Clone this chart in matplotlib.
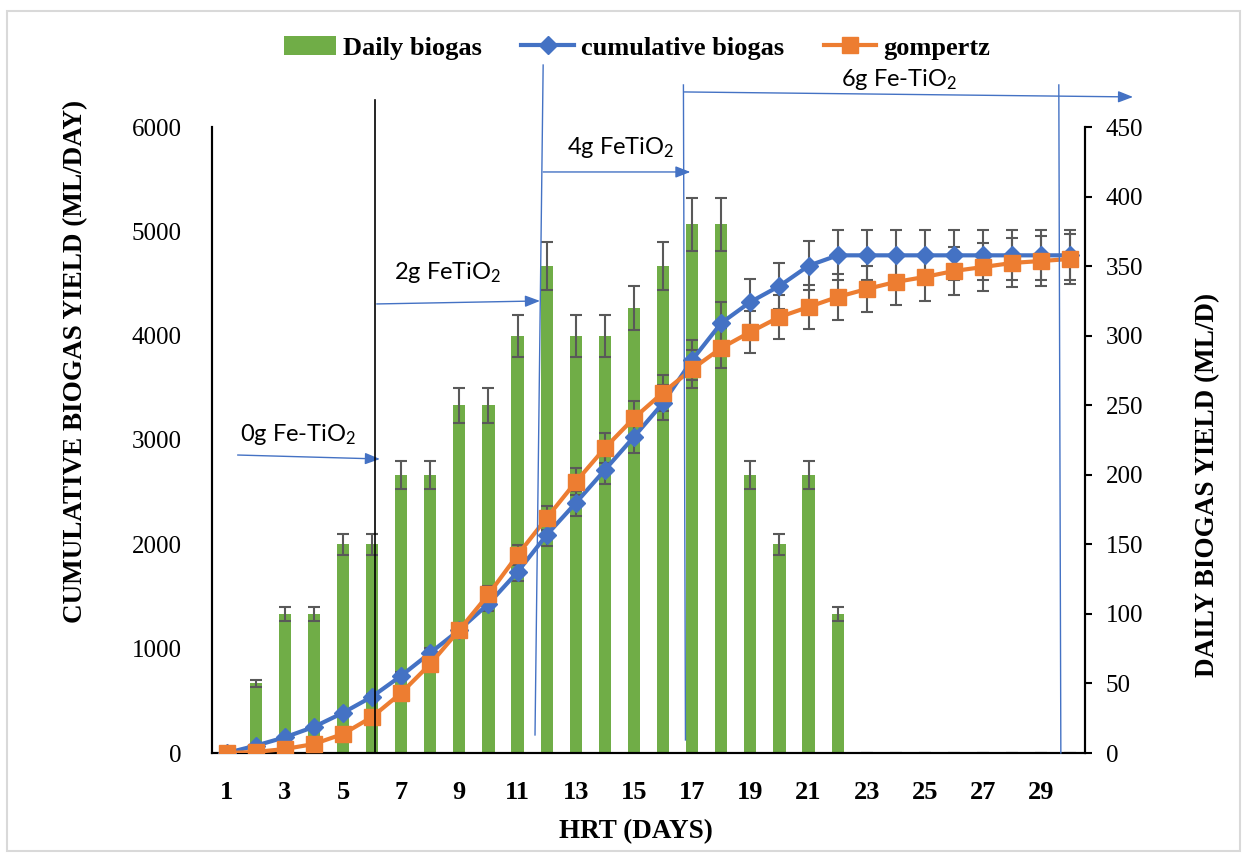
import numpy as np
import matplotlib
matplotlib.use("Agg")
import matplotlib.pyplot as plt
from matplotlib.patches import Rectangle

plt.rcParams['font.family'] = ['Liberation Serif', 'DejaVu Serif']
plt.rcParams['mathtext.fontset'] = 'custom'
plt.rcParams['mathtext.rm'] = 'Lato'
plt.rcParams['mathtext.it'] = 'Lato'

# data
days = list(range(1, 31))
daily_biogas = [0, 50, 100, 100, 150, 150, 200, 200, 250, 250, 300, 350, 300, 300, 320,
                350, 380, 380, 200, 150, 200, 100, 0, 0, 0, 0, 0, 0, 0, 0]
cumulative_biogas = [0, 70, 150, 250, 385, 540, 740, 960, 1180, 1430, 1735, 2090, 2396, 2713, 3030,
                     3355, 3767, 4121, 4323, 4476, 4670, 4770, 4770, 4770, 4770, 4770, 4770, 4770, 4770, 4770]
gompertz = [0, 10, 38, 86, 182, 345, 575, 853, 1180, 1520, 1898, 2252, 2598, 2923, 3210,
            3455, 3680, 3882, 4035, 4179, 4275, 4371, 4447, 4515, 4563, 4620, 4658, 4697, 4716, 4735]
xtick_days = list(range(1, 30, 2))

GREEN = '#70AD47'
BLUE = '#4472C4'
ORANGE = '#ED7D31'
ERR = '#595959'

fig = plt.figure(figsize=(12.46, 8.56), dpi=100)
fig.add_artist(Rectangle((0.006, 0.006), 0.989, 0.981, transform=fig.transFigure,
                         fill=False, edgecolor='#d9d9d9', linewidth=1.5))

rect = [212 / 1246, (856 - 753) / 856, (1085 - 212) / 1246, (753 - 127) / 856]
ax_bar = fig.add_axes(rect)
ax = ax_bar.twinx()

# bars on the right axis (drawn underneath)
bar_err = [v * 0.05 for v in daily_biogas]
ax_bar.bar(days, daily_biogas, width=0.42, color=GREEN, label='Daily biogas',
           yerr=bar_err, error_kw=dict(ecolor=ERR, elinewidth=1.5, capsize=4.5, capthick=1.5))
ax_bar.set_ylim(0, 450)
ax_bar.set_yticks(range(0, 451, 50))
ax_bar.yaxis.tick_right()
ax_bar.yaxis.set_label_position('right')
ax_bar.set_ylabel('DAILY BIOGAS YIELD (ML/D)', fontsize=19.5, fontweight='bold', rotation=90)
ax_bar.yaxis.set_label_coords(1.126, 0.428)
ax_bar.tick_params(axis='y', direction='out', length=5, width=1.5, pad=10, labelsize=18)

# lines on the left axis
cum_err = [v * 0.05 for v in cumulative_biogas]
gom_err = [v * 0.05 for v in gompertz]
ax.errorbar(days, cumulative_biogas, yerr=cum_err, fmt='none', ecolor=ERR,
            elinewidth=1.5, capsize=4.5, capthick=1.5, zorder=2)
ax.errorbar(days, gompertz, yerr=gom_err, fmt='none', ecolor=ERR,
            elinewidth=1.5, capsize=4.5, capthick=1.5, zorder=2)
ax.plot(days, cumulative_biogas, color=BLUE, lw=3, marker='D', markersize=9,
        label='cumulative biogas', zorder=3)
ax.plot(days, gompertz, color=ORANGE, lw=3, marker='s', markersize=11,
        label='gompertz', zorder=4)
ax.set_ylim(0, 6000)
ax.set_yticks(range(0, 6001, 1000))
ax.yaxis.tick_left()
ax.yaxis.set_label_position('left')
ax.set_ylabel('CUMULATIVE BIOGAS YIELD (ML/DAY)', fontsize=19.5, fontweight='bold')
ax.yaxis.set_label_coords(-0.142, 0.625)
ax.tick_params(axis='y', length=0, pad=22, labelsize=18)

ax.set_xlim(0.5, 30.5)
ax_bar.set_xticks(xtick_days)
ax_bar.set_xticklabels([str(d) for d in xtick_days], fontweight='bold', fontsize=19)
ax_bar.tick_params(axis='x', length=0, pad=20)
ax_bar.set_xlabel('HRT (DAYS)', fontsize=19.5, fontweight='bold')
ax_bar.xaxis.set_label_coords(0.486, -0.105)

for a in (ax, ax_bar):
    a.spines['top'].set_visible(False)
    for s in ('left', 'right', 'bottom'):
        a.spines[s].set_linewidth(1.5)

# treatment annotations (day, left-axis value)
ann_font = dict(family=['Lato', 'DejaVu Sans'], fontsize=17)
ax.plot([6.09, 6.09], [6260, 0], color='black', lw=1.2, clip_on=False, zorder=5)
ax.plot([11.88, 11.60], [6594, 173], color=BLUE, lw=1, clip_on=False, zorder=5)
ax.plot([16.70, 16.77], [6403, 125], color=BLUE, lw=1, clip_on=False, zorder=5)
ax.plot([29.6, 29.67], [6403, 0], color=BLUE, lw=1, clip_on=False, zorder=5)

arrows = [((1.38, 2856), (6.27, 2818)),
          ((6.16, 4304), (11.77, 4333)),
          ((11.88, 5569), (16.94, 5569)),
          ((16.73, 6336), (32.15, 6288))]
for start, end in arrows:
    ax.annotate('', xy=end, xytext=start, annotation_clip=False,
                arrowprops=dict(arrowstyle='-|>,head_length=0.9,head_width=0.35',
                                color=BLUE, lw=1, shrinkA=0, shrinkB=0))

ax.text(3.45, 3050, '0g Fe-TiO$_2$', ha='center', va='center', **ann_font)
ax.text(8.6, 4610, '2g FeTiO$_2$', ha='center', va='center', **ann_font)
ax.text(14.55, 5800, '4g FeTiO$_2$', ha='center', va='center', **ann_font)
ax.text(24.1, 6460, '6g Fe-TiO$_2$', ha='center', va='center', clip_on=False, **ann_font)

h1, l1 = ax_bar.get_legend_handles_labels()
h2, l2 = ax.get_legend_handles_labels()
fig.legend(h1 + h2, l1 + l2, loc='center', bbox_to_anchor=(0.511, 0.944), ncol=3,
           frameon=False, prop=dict(weight='bold', size=19), handlelength=2.0,
           columnspacing=1.5, handletextpad=0.25)

fig.savefig('out.png', dpi=100)
